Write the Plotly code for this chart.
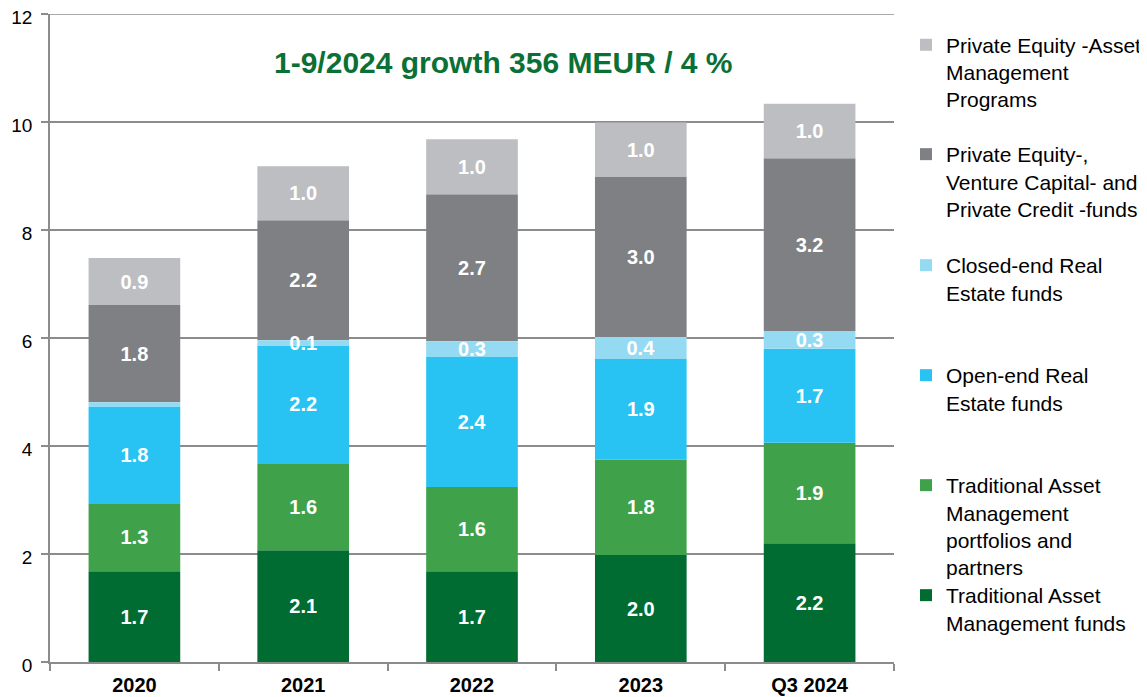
import plotly.graph_objects as go
import numpy as np

categories = ["2020", "2021", "2022", "2023", "Q3 2024"]

trad_funds = [1.68, 2.07, 1.68, 1.98, 2.20]
trad_portfolios = [1.26, 1.61, 1.56, 1.77, 1.86]
open_end_re = [1.79, 2.18, 2.41, 1.86, 1.74]
closed_end_re = [0.08, 0.10, 0.29, 0.41, 0.33]
pe_vc_pc = [1.80, 2.22, 2.72, 2.97, 3.20]
pe_programs = [0.87, 1.00, 1.02, 1.00, 1.01]

# stacking order: bottom -> top
series = [
    ("Traditional Asset<br>Management funds", trad_funds, "#006c31"),
    ("Traditional Asset<br>Management<br>portfolios and<br>partners", trad_portfolios, "#3fa24a"),
    ("Open-end Real<br>Estate funds", open_end_re, "#28c3f2"),
    ("Closed-end Real<br>Estate funds", closed_end_re, "#95daf3"),
    ("Private Equity-,<br>Venture Capital- and<br>Private Credit -funds", pe_vc_pc, "#7f8084"),
    ("Private Equity -Asset<br>Management<br>Programs", pe_programs, "#bdbec1"),
]

title_text = "1-9/2024 growth 356 MEUR / 4 %"

# page offset (default body margin) and plot-area pixel geometry in window coords
OFF = 8
WIN_W, WIN_H = 1147, 697
L, R, T, B = 50, 894, 14, 662
W, H = WIN_W - OFF, WIN_H - OFF
GRID = "#8c8c8c"

def py(p):
    return (B - p) / (B - T)

def px(p):
    return (p - L) / (R - L)

# legend first-line centers (pixels), bottom series first
legend_centers = [596, 486, 376, 266, 155, 45.5]

# bases for stacking (computed from the series values)
bases = []
running = np.zeros(len(categories))
for _, vals, _ in series:
    bases.append(running.copy())
    running = running + np.array(vals)

# draw the thin closed-end segment last so its labels sit on top
draw_order = [0, 1, 2, 4, 5, 3]

fig = go.Figure()
legend_layouts = {}
for i in draw_order:
    name, vals, color = series[i]
    lname = "legend" if i == 0 else f"legend{i+1}"
    texts = [f"{v:.1f}" if v >= 0.095 else "" for v in vals]
    fig.add_trace(go.Bar(
        x=categories, y=vals, base=bases[i], name=name,
        marker=dict(color=color, line=dict(width=0)),
        text=texts, textposition="inside", insidetextanchor="middle",
        textangle=0,
        textfont=dict(family="Arial", size=20, color="white", weight="bold"),
        legend=lname, hoverinfo="x+y+name",
    ))
    legend_layouts[lname] = dict(
        x=px(906), xanchor="left",
        y=py(legend_centers[i] - 21), yanchor="top",
        valign="top", bgcolor="rgba(0,0,0,0)",
        font=dict(family="Arial", size=21, color="#000000"),
    )

fig.update_layout(
    barmode="overlay",
    bargap=0.457,
    width=W, height=H,
    margin=dict(l=L - OFF, r=WIN_W - R, t=T - OFF, b=WIN_H - B, autoexpand=False),
    plot_bgcolor="white", paper_bgcolor="white",
    font=dict(family="Arial", color="#000000"),
    uniformtext=dict(mode="show", minsize=20),
    showlegend=True,
    **legend_layouts,
)

fig.update_xaxes(
    automargin=False,
    showgrid=False, showline=True, linecolor=GRID, linewidth=1.5,
    ticks="outside", tickson="boundaries", ticklen=7, tickcolor=GRID, tickwidth=1.5,
    ticklabelstandoff=4,
    tickfont=dict(family="Arial", size=20, color="#000000", weight="bold"),
)
fig.update_yaxes(
    automargin=False,
    range=[0, 12], dtick=2, showgrid=True, gridcolor=GRID, gridwidth=1.5,
    showline=True, linecolor=GRID, linewidth=1.5,
    ticks="outside", ticklen=7, tickcolor=GRID, tickwidth=1.5,
    ticklabelstandoff=5, ticklabeloverflow="allow", ticklabelshift=3,
    tickfont=dict(family="Arial", size=19, color="#000000"),
    zeroline=False,
)

# top gridline at 12 (plotly drops gridlines at the range ends)
fig.add_shape(
    type="line", xref="paper", x0=0, x1=1, yref="y", y0=12, y1=12,
    line=dict(color=GRID, width=1.5), layer="below",
)

fig.add_annotation(
    text=title_text, x=px(503), y=py(62), xref="paper", yref="paper",
    xanchor="center", yanchor="middle", showarrow=False,
    font=dict(family="Arial", size=30, color="#0a7035", weight="bold"),
)

fig.write_html("out.html")
